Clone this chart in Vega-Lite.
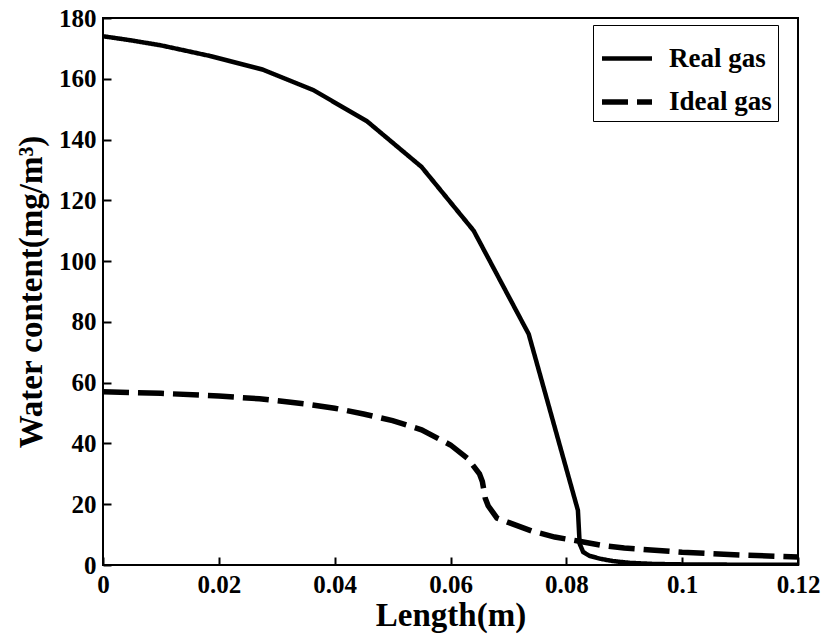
{
  "$schema": "https://vega.github.io/schema/vega-lite/v6.json",
  "width": 695,
  "height": 547,
  "autosize": "none",
  "padding": {"left": 103, "top": 18, "right": 26, "bottom": 75},
  "background": "white",
  "config": {
    "view": {"stroke": "black", "strokeWidth": 2},
    "font": "Liberation Serif",
    "style": {
      "guide-label": {"font": "Liberation Serif", "fontWeight": "bold"},
      "guide-title": {"font": "Liberation Serif", "fontWeight": "bold"}
    },
    "axis": {
      "grid": false,
      "labelFont": "Liberation Serif",
      "labelFontWeight": "bold",
      "labelFontSize": 25,
      "labelColor": "black",
      "titleFont": "Liberation Serif",
      "titleFontWeight": "bold",
      "titleFontSize": 33,
      "titleColor": "black"
    },
    "legend": {
      "labelFont": "Liberation Serif",
      "labelFontWeight": "bold",
      "labelFontSize": 27,
      "labelColor": "black"
    }
  },
  "data": {
    "values": [
      {"x": 0, "y": 174, "series": "Real gas"},
      {"x": 0.005, "y": 172.6, "series": "Real gas"},
      {"x": 0.01, "y": 171, "series": "Real gas"},
      {"x": 0.0185, "y": 167.5, "series": "Real gas"},
      {"x": 0.0276, "y": 163, "series": "Real gas"},
      {"x": 0.0363, "y": 156.3, "series": "Real gas"},
      {"x": 0.0456, "y": 146, "series": "Real gas"},
      {"x": 0.055, "y": 131, "series": "Real gas"},
      {"x": 0.064, "y": 110, "series": "Real gas"},
      {"x": 0.0735, "y": 76, "series": "Real gas"},
      {"x": 0.082, "y": 18, "series": "Real gas"},
      {"x": 0.0823, "y": 7, "series": "Real gas"},
      {"x": 0.0829, "y": 4.3, "series": "Real gas"},
      {"x": 0.084, "y": 3, "series": "Real gas"},
      {"x": 0.086, "y": 2, "series": "Real gas"},
      {"x": 0.088, "y": 1.3, "series": "Real gas"},
      {"x": 0.091, "y": 0.7, "series": "Real gas"},
      {"x": 0.095, "y": 0.35, "series": "Real gas"},
      {"x": 0.1, "y": 0.2, "series": "Real gas"},
      {"x": 0.11, "y": 0.1, "series": "Real gas"},
      {"x": 0.12, "y": 0.05, "series": "Real gas"},
      {"x": 0, "y": 57, "series": "Ideal gas"},
      {"x": 0.01, "y": 56.5, "series": "Ideal gas"},
      {"x": 0.02, "y": 55.6, "series": "Ideal gas"},
      {"x": 0.027, "y": 54.7, "series": "Ideal gas"},
      {"x": 0.035, "y": 53, "series": "Ideal gas"},
      {"x": 0.04, "y": 51.6, "series": "Ideal gas"},
      {"x": 0.045, "y": 49.7, "series": "Ideal gas"},
      {"x": 0.05, "y": 47.5, "series": "Ideal gas"},
      {"x": 0.055, "y": 44.5, "series": "Ideal gas"},
      {"x": 0.06, "y": 39.5, "series": "Ideal gas"},
      {"x": 0.063, "y": 35, "series": "Ideal gas"},
      {"x": 0.065, "y": 30, "series": "Ideal gas"},
      {"x": 0.0655, "y": 27.5, "series": "Ideal gas"},
      {"x": 0.066, "y": 22, "series": "Ideal gas"},
      {"x": 0.0665, "y": 19.5, "series": "Ideal gas"},
      {"x": 0.068, "y": 15.5, "series": "Ideal gas"},
      {"x": 0.07, "y": 14, "series": "Ideal gas"},
      {"x": 0.074, "y": 11.2, "series": "Ideal gas"},
      {"x": 0.078, "y": 9.2, "series": "Ideal gas"},
      {"x": 0.082, "y": 7.9, "series": "Ideal gas"},
      {"x": 0.086, "y": 6.5, "series": "Ideal gas"},
      {"x": 0.09, "y": 5.6, "series": "Ideal gas"},
      {"x": 0.1, "y": 4.2, "series": "Ideal gas"},
      {"x": 0.11, "y": 3.3, "series": "Ideal gas"},
      {"x": 0.12, "y": 2.6, "series": "Ideal gas"}
    ]
  },
  "mark": {"type": "line", "color": "black", "clip": true},
  "encoding": {
    "x": {
      "field": "x", "type": "quantitative",
      "scale": {"domain": [0, 0.12], "nice": false},
      "axis": {"values": [0, 0.02, 0.04, 0.06, 0.08, 0.1, 0.12], "zindex": 1, "domain": false, "offset": -8, "ticks": true, "tickSize": 8, "tickWidth": 2, "tickColor": "black", "tickOpacity": 1, "labelFlush": false, "labelPadding": 7, "title": "Length(m)", "titlePadding": 2, "labelExpr": "datum.value == 0 ? '0' : replace(format(datum.value, '.2~f'), /^0\\./, '0.')"}
    },
    "y": {
      "field": "y", "type": "quantitative",
      "scale": {"domain": [0, 180], "nice": false},
      "axis": {"values": [0, 20, 40, 60, 80, 100, 120, 140, 160, 180], "zindex": 1, "domain": false, "offset": -8, "ticks": true, "tickSize": 8, "tickWidth": 2, "tickColor": "black", "tickOpacity": 1, "labelFlush": false, "labelPadding": 7, "title": "Water content(mg/m³)", "titlePadding": 10}
    },
    "strokeDash": {
      "field": "series", "type": "nominal",
      "scale": {"domain": ["Real gas", "Ideal gas"], "range": [[1, 0], [26, 9]]},
      "legend": {
        "title": null,
        "orient": "none",
        "legendX": 490,
        "legendY": 7,
        "fillColor": "white",
        "strokeColor": "black",
        "padding": 6,
        "symbolType": "stroke",
        "symbolSize": 2500,
        "symbolStrokeWidth": 4.5,
        "symbolStrokeColor": "black",
        "labelOffset": 14,
        "rowPadding": 2,
        "offset": 0
      }
    },
    "strokeWidth": {
      "field": "series", "type": "nominal",
      "scale": {"domain": ["Real gas", "Ideal gas"], "range": [4.5, 5.5]},
      "legend": null
    }
  }
}
